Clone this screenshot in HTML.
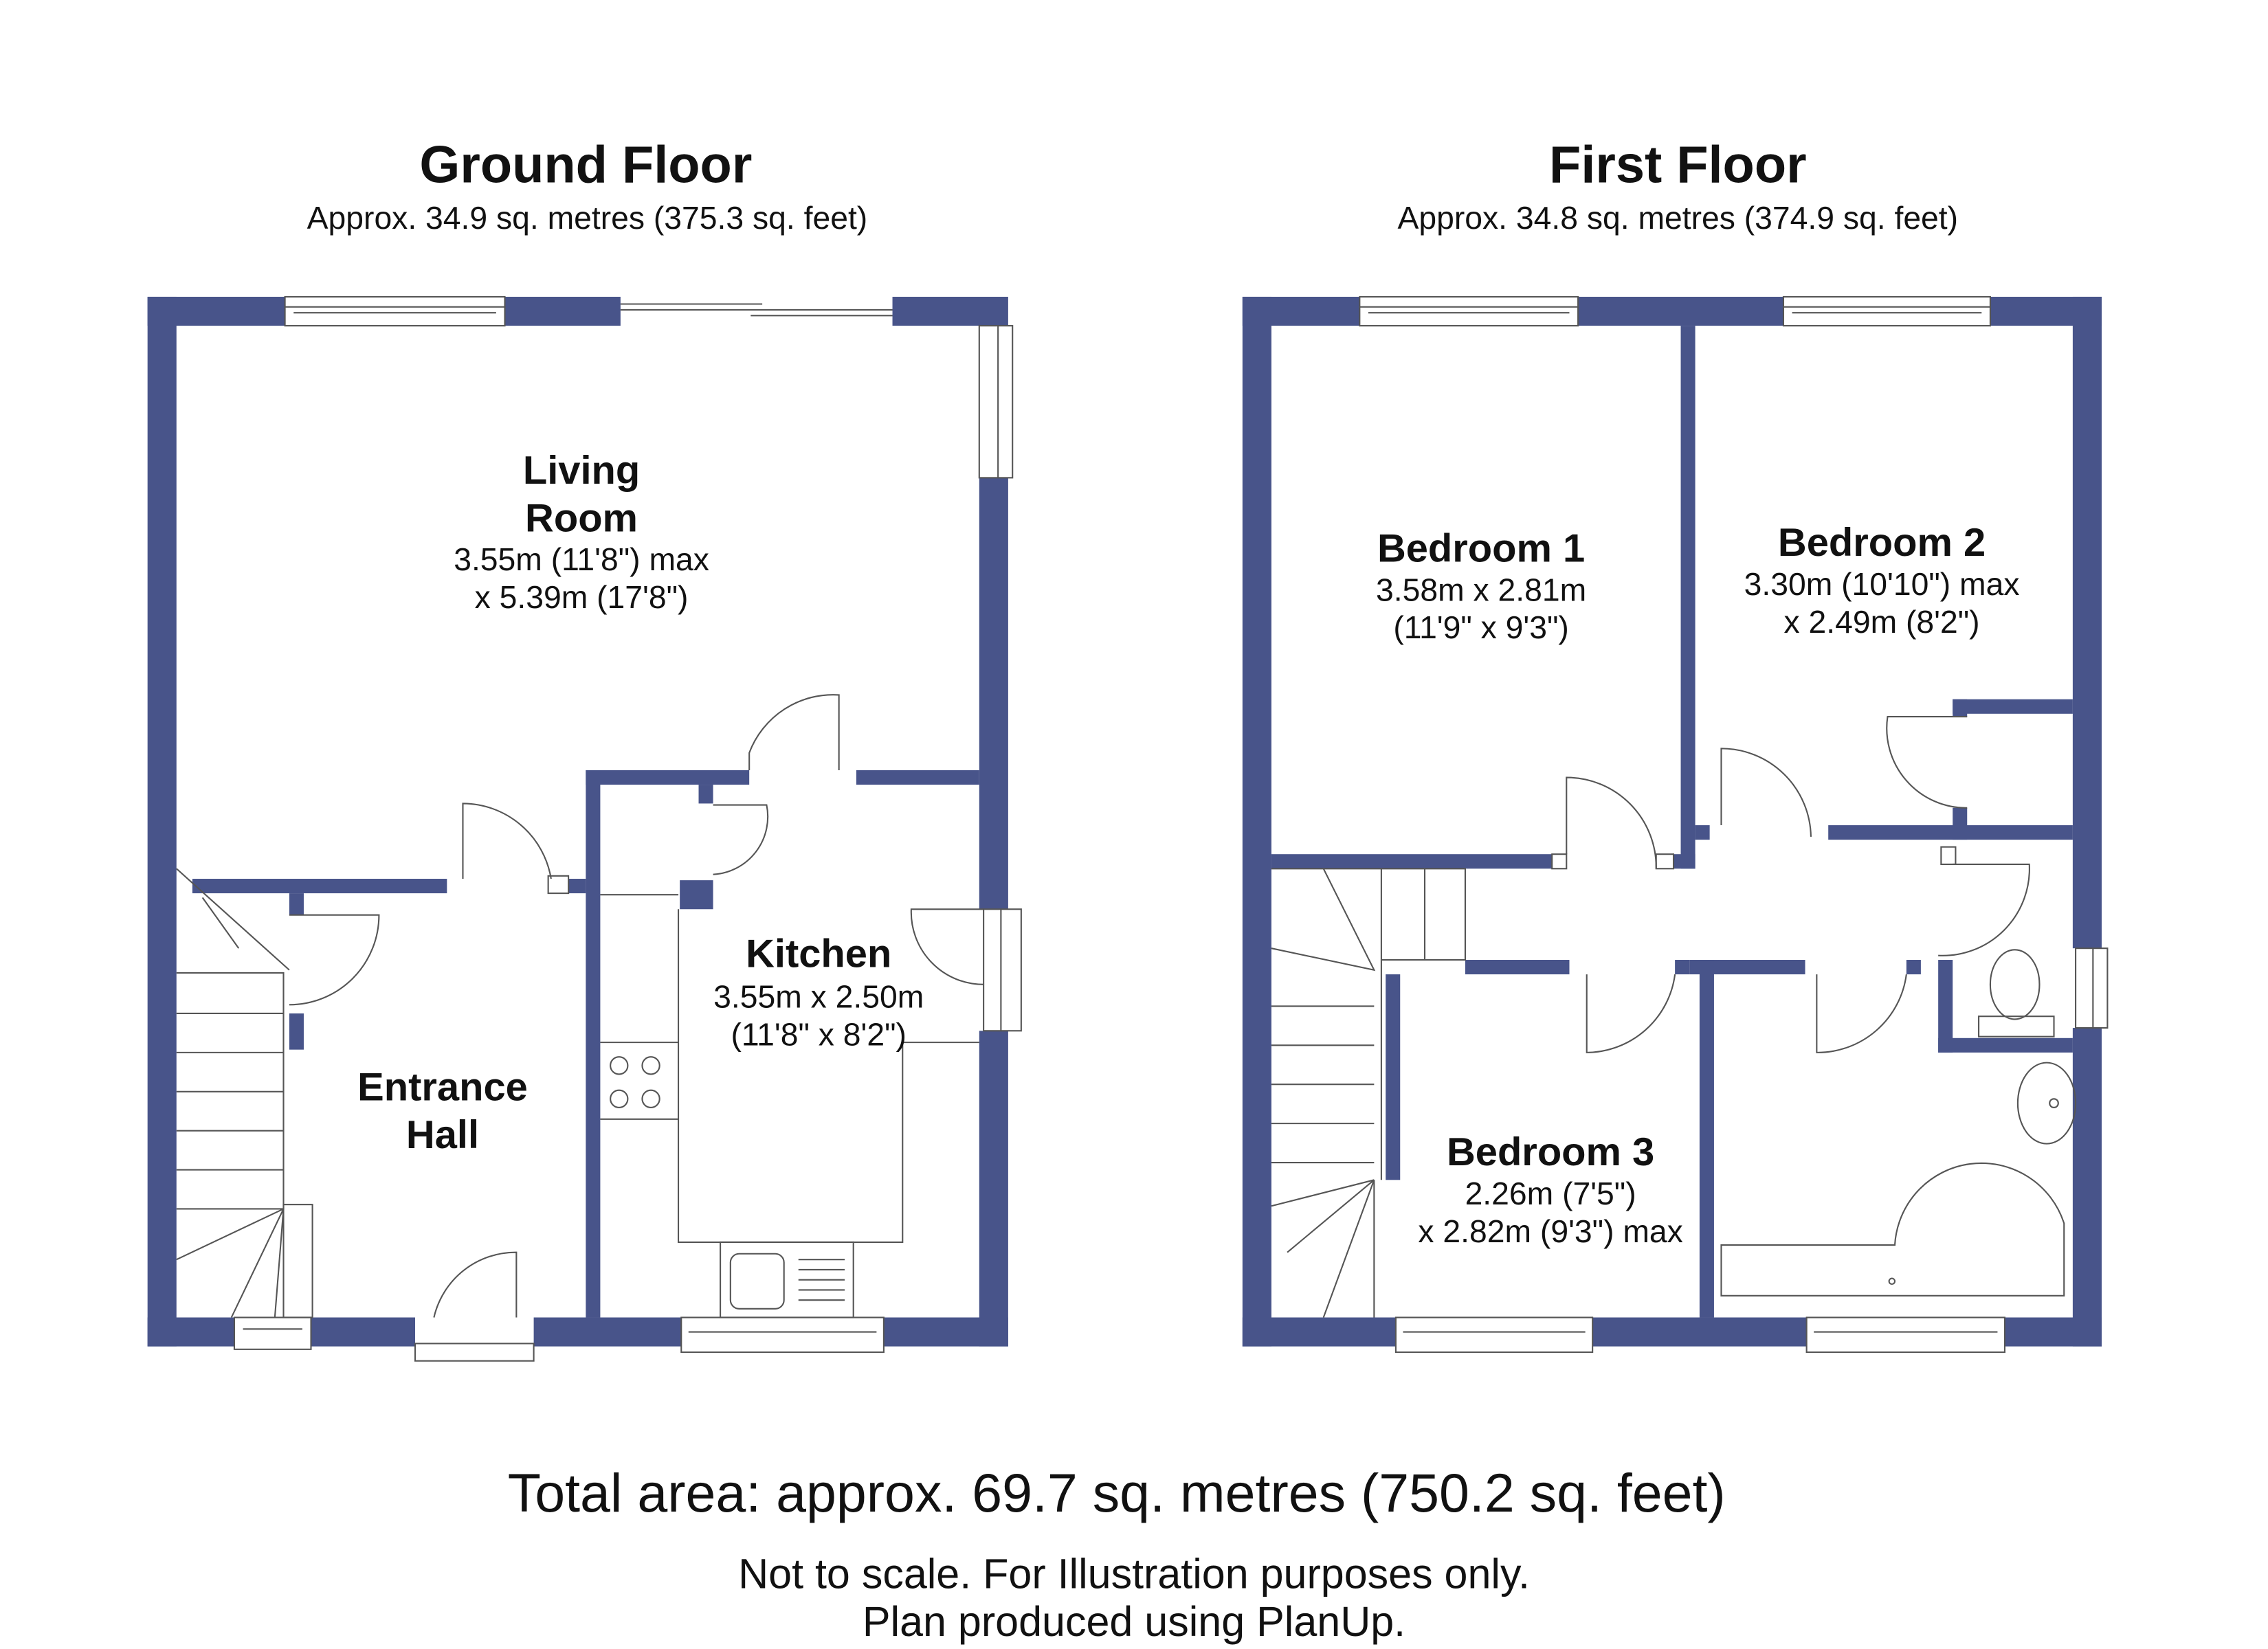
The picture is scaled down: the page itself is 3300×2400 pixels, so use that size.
<!DOCTYPE html>
<html><head><meta charset="utf-8"><style>
html,body{margin:0;padding:0;background:#fff;}
svg{display:block}
text{font-family:"Liberation Sans",sans-serif;fill:#111;text-anchor:middle}
.b{font-weight:bold}
</style></head><body>
<svg width="3300" height="2400" viewBox="0 0 1568 1139" preserveAspectRatio="none" xmlns="http://www.w3.org/2000/svg">
<rect width="1568" height="1139" fill="#fff"/>
<text x="405" y="126" class="b" font-size="36">Ground Floor</text>
<text x="406" y="158" font-size="22">Approx. 34.9 sq. metres (375.3 sq. feet)</text>
<text x="1160" y="126" class="b" font-size="36">First Floor</text>
<text x="1160" y="158" font-size="22">Approx. 34.8 sq. metres (374.9 sq. feet)</text>

<g fill="#48548a">
<rect x="102" y="205" width="95" height="20"/>
<rect x="349" y="205" width="80" height="20"/>
<rect x="617" y="205" width="80" height="20"/>
<rect x="102" y="205" width="20" height="725"/>
<rect x="677" y="330" width="20" height="298"/>
<rect x="677" y="712" width="20" height="218"/>
<rect x="102" y="910" width="60" height="20"/>
<rect x="215" y="910" width="72" height="20"/>
<rect x="369" y="910" width="102" height="20"/>
<rect x="611" y="910" width="86" height="20"/>
<rect x="405" y="532" width="10" height="378"/>
<rect x="405" y="532" width="113" height="10"/>
<rect x="592" y="532" width="85" height="10"/>
<rect x="483" y="542" width="10" height="13"/>
<rect x="470" y="608" width="23" height="20"/>
<rect x="133" y="607" width="176" height="10"/>
<rect x="393" y="607" width="12" height="10"/>
<rect x="200" y="617" width="10" height="15"/>
<rect x="200" y="700" width="10" height="25"/>
<rect x="859" y="205" width="81" height="20"/>
<rect x="1091" y="205" width="142" height="20"/>
<rect x="1376" y="205" width="77" height="20"/>
<rect x="859" y="205" width="20" height="725"/>
<rect x="1433" y="205" width="20" height="450"/>
<rect x="1433" y="710" width="20" height="220"/>
<rect x="859" y="910" width="106" height="20"/>
<rect x="1101" y="910" width="148" height="20"/>
<rect x="1386" y="910" width="67" height="20"/>
<rect x="1162" y="225" width="10" height="375"/>
<rect x="879" y="590" width="194" height="10"/>
<rect x="1157" y="590" width="15" height="10"/>
<rect x="1172" y="570" width="10" height="10"/>
<rect x="1264" y="570" width="169" height="10"/>
<rect x="1350" y="483" width="83" height="10"/>
<rect x="1350" y="483" width="10" height="12"/>
<rect x="1350" y="558" width="10" height="22"/>
<rect x="1013" y="663" width="72" height="10"/>
<rect x="1158" y="663" width="10" height="10"/>
<rect x="1168" y="663" width="80" height="10"/>
<rect x="1175" y="663" width="10" height="247"/>
<rect x="1318" y="663" width="10" height="10"/>
<rect x="1340" y="663" width="10" height="64"/>
<rect x="1340" y="717" width="93" height="10"/>
<rect x="958" y="673" width="10" height="142"/>
</g>

<g fill="#fff" stroke="#555" stroke-width="1">
<rect x="197" y="205" width="152" height="20"/><line x1="197" y1="212" x2="349" y2="212"/><line x1="203" y1="216" x2="343" y2="216"/>
<rect x="677" y="225" width="23" height="105"/><line x1="690" y1="225" x2="690" y2="330"/>
<rect x="680" y="628" width="26" height="84"/><line x1="692" y1="628" x2="692" y2="712"/>
<rect x="162" y="910" width="53" height="22"/><line x1="168" y1="918" x2="209" y2="918"/>
<rect x="287" y="928" width="82" height="12"/>
<rect x="471" y="910" width="140" height="24"/><line x1="476" y1="920" x2="606" y2="920"/>
<rect x="940" y="205" width="151" height="20"/><line x1="940" y1="212" x2="1091" y2="212"/><line x1="946" y1="216" x2="1085" y2="216"/>
<rect x="1233" y="205" width="143" height="20"/><line x1="1233" y1="212" x2="1376" y2="212"/><line x1="1239" y1="216" x2="1370" y2="216"/>
<rect x="1435" y="655" width="22" height="55"/><line x1="1447" y1="655" x2="1447" y2="710"/>
<rect x="965" y="910" width="136" height="24"/><line x1="970" y1="920" x2="1096" y2="920"/>
<rect x="1249" y="910" width="137" height="24"/><line x1="1254" y1="920" x2="1381" y2="920"/>
</g>

<g fill="none" stroke="#555" stroke-width="1">
<line x1="429" y1="210" x2="527" y2="210"/><line x1="519" y1="218" x2="617" y2="218"/><line x1="429" y1="214" x2="617" y2="214"/>
<path d="M320 607 V555 A62 62 0 0 1 381 607"/><rect x="379" y="605" width="14" height="12"/>
<path d="M518 532 V520 A62 62 0 0 1 580 480 V532"/>
<path d="M493 556 H530 A40 40 0 0 1 493 604"/>
<path d="M200 632 H262 A62 62 0 0 1 200 694"/>
<path d="M680 628 H630 A50 50 0 0 0 680 680"/>
<path d="M357 910 V865 A58 58 0 0 0 300 910"/>
<path d="M122 600 L200 670"/><path d="M140 620 L165 655"/>
<path d="M122 672 H196 V835 H122"/>
<line x1="122" y1="700" x2="196" y2="700"/><line x1="122" y1="727" x2="196" y2="727"/><line x1="122" y1="754" x2="196" y2="754"/><line x1="122" y1="781" x2="196" y2="781"/><line x1="122" y1="808" x2="196" y2="808"/>
<path d="M196 835 L160 910 M196 835 L190 910 M196 835 L122 870"/>
<rect x="196" y="832" width="20" height="78"/>
<path d="M415 618 H469 M415 720 H469 M415 773 H469 M469 628 V858 H624 V720"/>
<path d="M624 720 H677"/>
<circle cx="428" cy="736" r="6"/><circle cx="450" cy="736" r="6"/><circle cx="428" cy="759" r="6"/><circle cx="450" cy="759" r="6"/>
<rect x="498" y="858" width="92" height="52"/><rect x="505" y="866" width="37" height="38" rx="6"/>
<line x1="552" y1="870" x2="584" y2="870"/><line x1="552" y1="877" x2="584" y2="877"/><line x1="552" y1="884" x2="584" y2="884"/><line x1="552" y1="891" x2="584" y2="891"/><line x1="552" y1="898" x2="584" y2="898"/>
<path d="M1083 590 V537 A62 62 0 0 1 1145 600"/><rect x="1073" y="590" width="10" height="10"/><rect x="1145" y="590" width="12" height="10"/>
<path d="M1190 570 V517 A62 62 0 0 1 1252 578"/>
<path d="M1360 495 H1305 A55 55 0 0 0 1360 558"/>
<path d="M1350 597 H1403 A60 60 0 0 1 1340 660"/><rect x="1342" y="585" width="10" height="12"/>
<path d="M1097 673 V727 A62 62 0 0 0 1158 673"/>
<path d="M1256 673 V727 A62 62 0 0 0 1318 673"/>
<path d="M879 600 H1013 V663 H955 V815 M955 600 V663 M985 600 V663"/>
<path d="M915 600 L950 670 L879 655"/>
<line x1="879" y1="695" x2="950" y2="695"/><line x1="879" y1="722" x2="950" y2="722"/><line x1="879" y1="749" x2="950" y2="749"/><line x1="879" y1="776" x2="950" y2="776"/><line x1="879" y1="803" x2="950" y2="803"/>
<path d="M950 815 L890 865 M950 815 L915 910 M950 815 L879 833 M950 815 V910"/>
<ellipse cx="1393" cy="680" rx="17" ry="24"/><rect x="1368" y="702" width="52" height="14"/>
<ellipse cx="1415" cy="762" rx="20" ry="28"/><circle cx="1420" cy="762" r="3"/>
<path d="M1190 895 H1427 V845 A60 60 0 0 0 1310 860 H1190 Z"/>
<circle cx="1308" cy="885" r="2"/>
</g>

<text x="402" y="334" class="b" font-size="27.5">Living</text>
<text x="402" y="367" class="b" font-size="27.5">Room</text>
<text x="402" y="394" font-size="22">3.55m (11'8") max</text>
<text x="402" y="420" font-size="22">x 5.39m (17'8")</text>
<text x="566" y="668" class="b" font-size="27.5">Kitchen</text>
<text x="566" y="696" font-size="22">3.55m x 2.50m</text>
<text x="566" y="722" font-size="22">(11'8" x 8'2")</text>
<text x="306" y="760" class="b" font-size="27.5">Entrance</text>
<text x="306" y="793" class="b" font-size="27.5">Hall</text>
<text x="1024" y="388" class="b" font-size="27.5">Bedroom 1</text>
<text x="1024" y="415" font-size="22">3.58m x 2.81m</text>
<text x="1024" y="441" font-size="22">(11'9" x 9'3")</text>
<text x="1301" y="384" class="b" font-size="27.5">Bedroom 2</text>
<text x="1301" y="411" font-size="22">3.30m (10'10") max</text>
<text x="1301" y="437" font-size="22">x 2.49m (8'2")</text>
<text x="1072" y="805" class="b" font-size="27.5">Bedroom 3</text>
<text x="1072" y="832" font-size="22">2.26m (7'5")</text>
<text x="1072" y="858" font-size="22">x 2.82m (9'3") max</text>

<text x="772" y="1044" font-size="37.5">Total area: approx. 69.7 sq. metres (750.2 sq. feet)</text>
<text x="784" y="1097" font-size="29">Not to scale. For Illustration purposes only.</text>
<text x="784" y="1130" font-size="29">Plan produced using PlanUp.</text>
</svg>
</body></html>
